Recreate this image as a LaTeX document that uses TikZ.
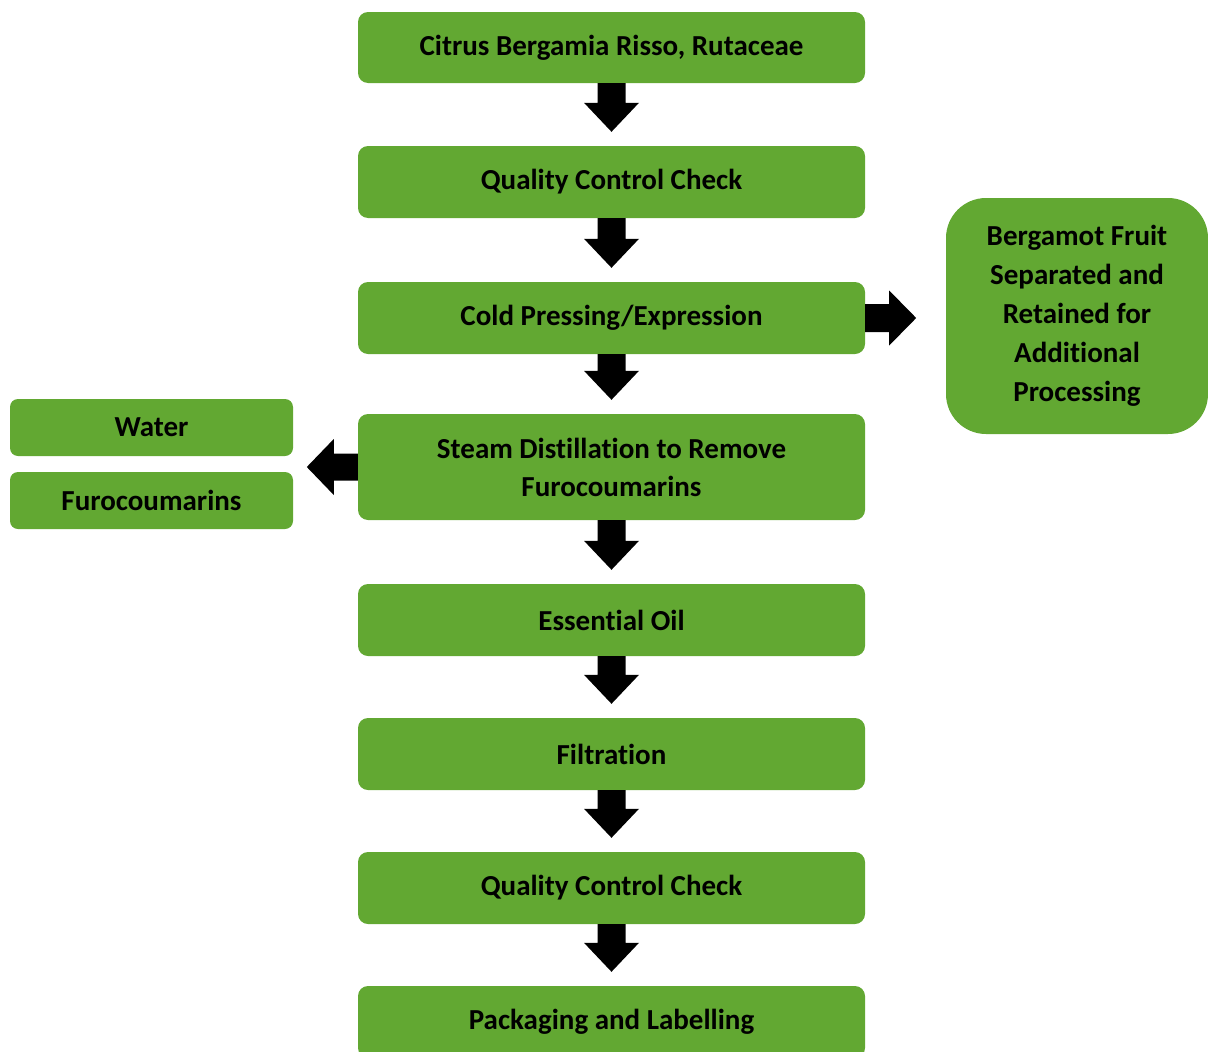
\documentclass[tikz,border=0pt]{standalone}
\usepackage{fontspec}
\setmainfont{Carlito}[Ligatures={NoCommon}]
\usetikzlibrary{calc}
\definecolor{boxgreen}{RGB}{98,168,50}
\tikzset{
  boxfont/.style={font=\fontsize{29}{38}\selectfont\bfseries, text=black},
  stepbox/.style={fill=boxgreen, rounded corners=10pt, inner sep=0pt,
    minimum width=507pt, minimum height=72pt, align=center, boxfont},
  sidebox/.style={fill=boxgreen, rounded corners=8pt, inner sep=0pt,
    minimum width=283pt, minimum height=57pt, align=center, boxfont},
  bigbox/.style={fill=boxgreen, rounded corners=40pt, inner sep=0pt,
    minimum width=262pt, minimum height=236pt, align=center,
    font=\fontsize{29}{39}\selectfont\bfseries, text=black},
  blockarrow/.style={fill=black}
}
\newcommand\blockdown[2]{%
  \path let \p1=(#1.south), \p2=(#2.north) in
    [blockarrow] (\x1-14pt,\y1) -- (\x1+14pt,\y1) -- (\x1+14pt,\y2+43pt)
    -- (\x1+27.5pt,\y2+43pt) -- (\x1,\y2+14pt) -- (\x1-27.5pt,\y2+43pt)
    -- (\x1-14pt,\y2+43pt) -- cycle;}
\begin{document}
\begin{tikzpicture}[x=1pt,y=-1pt]
\useasboundingbox (0,0) rectangle (1208,1052);
\clip (0,0) rectangle (1208,1052);
\node[stepbox, minimum height=71pt] (b1) at (611.5,47.5) {Citrus Bergamia Risso, Rutaceae};
\node[stepbox] (b2) at (611.5,182) {Quality Control Check};
\node[stepbox] (b3) at (611.5,318) {Cold Pressing/Expression};
\node[stepbox, minimum height=106pt] (b4) at (611.5,467) {Steam Distillation to Remove\\Furocoumarins};
\node[stepbox] (b5) at (611.5,620) {Essential Oil};
\node[stepbox] (b6) at (611.5,754) {Filtration};
\node[stepbox] (b7) at (611.5,888) {Quality Control Check};
\node[stepbox] (b8) at (611.5,1022) {Packaging and Labelling};
\node[bigbox] (side) at (1077,316) {Bergamot Fruit\\Separated and\\Retained for\\Additional\\Processing};
\node[sidebox] (water) at (151.5,427.5) {Water};
\node[sidebox] (furo) at (151.5,500.5) {Furocoumarins};
\blockdown{b1}{b2}
\blockdown{b2}{b3}
\blockdown{b3}{b4}
\blockdown{b4}{b5}
\blockdown{b5}{b6}
\blockdown{b6}{b7}
\blockdown{b7}{b8}
% right arrow
\path let \p1=(b3.east) in
  [blockarrow] (\x1,\y1+14pt) -- (\x1+24pt,\y1+14pt) -- (\x1+24pt,\y1+27.5pt)
  -- (\x1+51pt,\y1) -- (\x1+24pt,\y1-27.5pt) -- (\x1+24pt,\y1-14pt)
  -- (\x1,\y1-14pt) -- cycle;
% left arrow
\path let \p1=(b4.west) in
  [blockarrow] (\x1,\y1+13.5pt) -- (\x1-24pt,\y1+13.5pt) -- (\x1-24pt,\y1+28pt)
  -- (\x1-51pt,\y1) -- (\x1-24pt,\y1-28pt) -- (\x1-24pt,\y1-13.5pt)
  -- (\x1,\y1-13.5pt) -- cycle;
\end{tikzpicture}
\end{document}
